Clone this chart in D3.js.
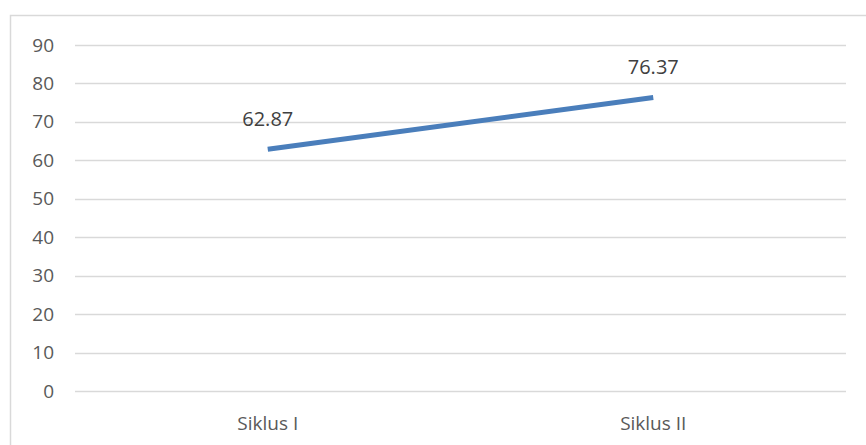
<!DOCTYPE html>
<html>
<head>
<meta charset="utf-8">
<script src="https://cdn.jsdelivr.net/npm/d3@7"></script>
<style>
  body { margin: 0; background: #fff; }
  svg text { font-family: "Open Sans", "Noto Sans", sans-serif; }
</style>
</head>
<body>
<script>
var categories = ['Siklus I', 'Siklus II']
var values = [62.87, 76.37]
var labels = ['62.87', '76.37']
var yTicks = [0, 10, 20, 30, 40, 50, 60, 70, 80, 90]

var W = 866, H = 445
var margin = { top: 45, left: 75, right: 20, bottom: 54 }

var svg = d3.select('body').append('svg')
    .attr('width', W)
    .attr('height', H)

// chart area border (cut off on the right and bottom)
svg.append('path')
    .attr('d', 'M10.5,' + H + 'V15.5H' + W)
    .attr('fill', 'none')
    .attr('stroke', '#d9d9d9')
    .attr('stroke-width', 1.5)

var x = d3.scaleBand()
    .domain(categories)
    .range([margin.left, W - margin.right])
    .padding(0)

var y = d3.scaleLinear()
    .domain([0, 90])
    .range([H - margin.bottom, margin.top])

// grid
svg.append('g')
    .selectAll('line')
    .data(yTicks)
    .enter().append('line')
    .attr('x1', margin.left)
    .attr('x2', W - margin.right)
    .attr('y1', function (d) { return Math.round(y(d)) + 0.5 })
    .attr('y2', function (d) { return Math.round(y(d)) + 0.5 })
    .attr('stroke', '#d9d9d9')
    .attr('stroke-width', 1.3)

var yAxis = svg.append('g')
    .attr('transform', 'translate(' + (margin.left - 21) + ',0)')
    .call(d3.axisLeft(y).tickValues(yTicks).tickSize(0).tickPadding(0))
yAxis.attr('font-family', null)
yAxis.select('.domain').remove()
yAxis.selectAll('text')
    .attr('fill', '#595959')
    .style('font-size', '19px')

var xAxis = svg.append('g')
    .attr('transform', 'translate(0,' + (H - margin.bottom) + ')')
    .call(d3.axisBottom(x).tickSize(0).tickPadding(26))
xAxis.attr('font-family', null)
xAxis.select('.domain').remove()
xAxis.selectAll('text')
    .attr('fill', '#595959')
    .style('font-size', '19px')

var line = d3.line()
    .x(function (d, i) { return x(categories[i]) + x.bandwidth() / 2 })
    .y(function (d) { return y(d) })

svg.append('path')
    .datum(values)
    .attr('d', line)
    .attr('fill', 'none')
    .attr('stroke', '#4a7ebb')
    .attr('stroke-width', 5)

svg.append('g')
    .selectAll('text')
    .data(values)
    .enter().append('text')
    .attr('x', function (d, i) { return x(categories[i]) + x.bandwidth() / 2 })
    .attr('y', function (d) { return y(d) - 23 })
    .attr('text-anchor', 'middle')
    .attr('fill', '#404040')
    .style('font-size', '20px')
    .text(function (d, i) { return labels[i] })
</script>
</body>
</html>
